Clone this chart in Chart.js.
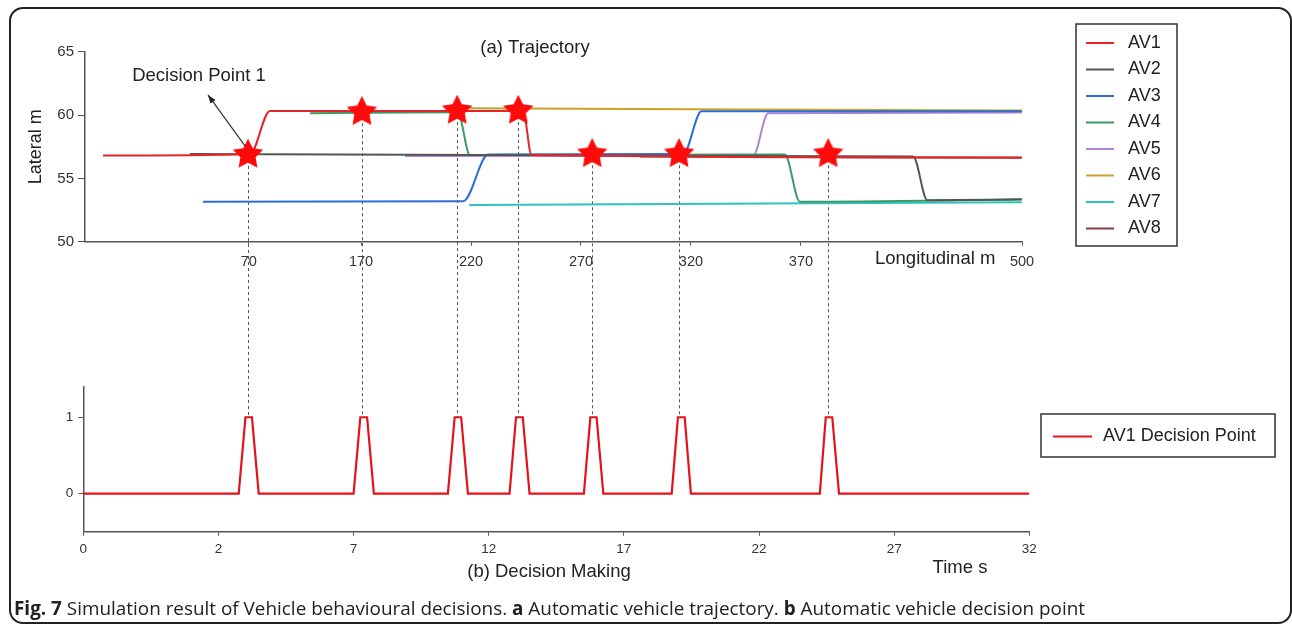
<!DOCTYPE html>
<html>
<head>
<meta charset="utf-8">
<script src="https://cdn.jsdelivr.net/npm/chart.js@4.4.1/dist/chart.umd.min.js"></script>
<style>
    body { margin: 0; background: #fff; }
    #wrap { position: relative; width: 1292px; height: 626px; overflow: hidden; }
    .frame { position: absolute; left: 9px; top: 7px; width: 1283px; height: 617px; border: 2px solid #222; border-radius: 14px; box-sizing: border-box; }
    canvas { position: absolute; left: 0; top: 0; }
    #topChart { z-index: 2; }
    #bottomChart { z-index: 1; }
    #caption { position: absolute; left: 14px; top: 596px; font: 18.9px "Open Sans", sans-serif; line-height: 24px; color: #222; white-space: nowrap; z-index: 3; }
</style>
</head>
<body>
<div id="wrap">
    <div class="frame"></div>
    <canvas id="bottomChart" width="1292" height="626"></canvas>
    <canvas id="topChart" width="1292" height="626"></canvas>
    <div id="caption"><b>Fig. 7</b> Simulation result of Vehicle behavioural decisions. <b>a</b> Automatic vehicle trajectory. <b>b</b> Automatic vehicle decision point</div>
</div>
<script>
const FONT = '"Liberation Sans", Arial, Helvetica, sans-serif';

// (a) trajectories - longitudinal position vs lateral position
const av1X = [52.7, 119.5, 128.6, 243.7, 247.5, 470.4];
const av1Y = [56.80, 56.90, 60.32, 60.32, 56.85, 56.65];
const av2X = [92.2, 421.0, 427.5, 470.4];
const av2Y = [56.93, 56.72, 53.28, 53.35];
const av3X = [98.1, 216.5, 227.8, 316.5, 324.8, 470.4];
const av3Y = [53.16, 53.20, 56.88, 56.92, 60.30, 60.30];
const av4X = [146.8, 214.0, 219.5, 362.7, 369.5, 470.4];
const av4Y = [60.14, 60.22, 56.85, 56.88, 53.16, 53.33];
const av5X = [190.0, 348.3, 355.1, 470.4];
const av5Y = [56.77, 56.79, 60.14, 60.20];
const av6X = [219.5, 470.4];
const av6Y = [60.53, 60.36];
const av7X = [219.2, 470.4];
const av7Y = [52.90, 53.12];
const av8X = [296.8, 470.4];
const av8Y = [56.72, 56.62];

const vehicleNames = ['AV1', 'AV2', 'AV3', 'AV4', 'AV5', 'AV6', 'AV7', 'AV8'];
const vehicleColors = ['#e52528', '#555555', '#2c6fd1', '#3b9a64', '#b185d6', '#c9a227', '#2ec4bd', '#7d4040'];

// decision points of AV1 (stars)
const starX = [118.6, 170.4, 213.7, 241.5, 275.1, 314.6, 382.4];
const starY = [56.93, 60.30, 60.40, 60.40, 56.98, 56.98, 56.98];

// top axis tick positions and their printed labels
const topTickPos = [119, 170, 220, 270, 320, 370, 470.5];
const topTickLabels = ['70', '170', '220', '270', '320', '370', '500'];

// (b) decision making - time vs decision flag
const timeTickLabels = ['0', '2', '7', '12', '17', '22', '27', '32'];
const decisionT = [0, 5.75, 6.0, 6.24, 6.49, 10.0, 10.25, 10.5, 10.75, 13.49, 13.74, 13.98, 14.23,
    15.77, 16.01, 16.26, 16.51, 18.52, 18.76, 18.99, 19.24, 21.77, 22.0, 22.25, 22.48,
    27.25, 27.47, 27.71, 27.96, 35];
const decisionV = [0, 0, 1, 1, 0, 0, 1, 1, 0, 0, 1, 1, 0,
    0, 1, 1, 0, 0, 1, 1, 0, 0, 1, 1, 0,
    0, 1, 1, 0, 0];

const trajX = [av1X, av2X, av3X, av4X, av5X, av6X, av7X, av8X];
const trajY = [av1Y, av2Y, av3Y, av4Y, av5Y, av6Y, av7Y, av8Y];

function zip(xs, ys) {
    return xs.map((x, i) => ({ x: x, y: ys[i] }));
}

// estrela vermelha usada como pointStyle
function makeStar(r) {
    const c = document.createElement('canvas');
    c.width = c.height = Math.ceil(2 * r + 2);
    const g = c.getContext('2d');
    const cx = c.width / 2, cy = c.height / 2 + 0.8;
    g.beginPath();
    for (let i = 0; i < 10; i++) {
        const rad = i % 2 === 0 ? r : r * 0.5;
        const a = -Math.PI / 2 + i * Math.PI / 5;
        const px = cx + rad * Math.cos(a);
        const py = cy + rad * Math.sin(a);
        if (i === 0) g.moveTo(px, py); else g.lineTo(px, py);
    }
    g.closePath();
    g.fillStyle = '#ff0a0a';
    g.fill();
    return c;
}

function drawLegendBox(ctx, box, items) {
    ctx.save();
    ctx.strokeStyle = '#333';
    ctx.lineWidth = 1.5;
    ctx.strokeRect(box.x, box.y, box.w, box.h);
    ctx.font = '18px ' + FONT;
    ctx.textBaseline = 'middle';
    ctx.textAlign = 'left';
    items.forEach(it => {
        ctx.strokeStyle = it.color;
        ctx.lineWidth = 2;
        ctx.beginPath();
        ctx.moveTo(it.x1, it.y);
        ctx.lineTo(it.x2, it.y);
        ctx.stroke();
        ctx.fillStyle = '#222';
        ctx.fillText(it.text, it.tx, it.y);
    });
    ctx.restore();
}

const bottomExtras = {
    id: 'bottomExtras',
    afterDraw(chart) {
        const ctx = chart.ctx;
        ctx.save();
        ctx.fillStyle = '#222';
        ctx.font = '18.5px ' + FONT;
        ctx.textBaseline = 'middle';
        ctx.textAlign = 'center';
        ctx.fillText('(b) Decision Making', 549, 572);
        ctx.fillText('Time s', 960, 568);
        ctx.restore();

        const ds = chart.data.datasets[0];
        drawLegendBox(ctx, { x: 1041, y: 414, w: 234, h: 43 }, [
            { color: ds.borderColor, x1: 1053, x2: 1092, y: 436.5, tx: 1103, text: ds.label }
        ]);
    }
};

const bottomChart = new Chart(document.getElementById('bottomChart'), {
    type: 'line',
    data: {
        datasets: [{
            label: 'AV1 Decision Point',
            data: zip(decisionT, decisionV),
            borderColor: '#e3121b',
            borderWidth: 2.2,
            pointRadius: 0,
            tension: 0
        }]
    },
    options: {
        responsive: false,
        animation: false,
        devicePixelRatio: 1,
        layout: { padding: { left: 0, top: 386.7, right: 262.7, bottom: 54.3 } },
        plugins: { legend: { display: false }, tooltip: { enabled: false } },
        scales: {
            x: {
                type: 'linear',
                min: 0,
                max: 35,
                afterFit(scale) { scale.height = 40; },
                ticks: {
                    stepSize: 5,
                    padding: 5,
                    color: '#333',
                    font: { family: FONT, size: 13.5 },
                    callback: (value, index) => timeTickLabels[index]
                },
                grid: { drawOnChartArea: false, tickLength: 4, color: '#555' },
                border: { color: '#555', width: 1.5 }
            },
            y: {
                min: -0.5,
                max: 1.4,
                afterFit(scale) { scale.width = 83.3; },
                afterBuildTicks(scale) { scale.ticks = [{ value: 0 }, { value: 1 }]; },
                ticks: {
                    padding: 5,
                    color: '#333',
                    font: { family: FONT, size: 13.5 }
                },
                grid: { drawOnChartArea: false, tickLength: 5, color: '#555' },
                border: { color: '#555', width: 1.5 }
            }
        }
    },
    plugins: [bottomExtras]
});

const topExtras = {
    id: 'topExtras',
    beforeDatasetsDraw(chart) {
        // linhas tracejadas das estrelas até os picos de decisão
        const ctx = chart.ctx;
        const xs = chart.scales.x, ys = chart.scales.y;
        const yEnd = bottomChart.scales.y.getPixelForValue(1);
        ctx.save();
        ctx.strokeStyle = '#555';
        ctx.lineWidth = 1;
        ctx.setLineDash([3, 3]);
        starX.forEach((sx, i) => {
            const px = Math.round(xs.getPixelForValue(sx)) + 0.5;
            ctx.beginPath();
            ctx.moveTo(px, ys.getPixelForValue(starY[i]));
            ctx.lineTo(px, yEnd);
            ctx.stroke();
        });
        ctx.restore();
    },
    afterDraw(chart) {
        const ctx = chart.ctx;
        const xs = chart.scales.x, ys = chart.scales.y;
        ctx.save();
        ctx.fillStyle = '#222';
        ctx.font = '18.5px ' + FONT;
        ctx.textBaseline = 'middle';
        ctx.textAlign = 'center';
        ctx.fillText('(a) Trajectory', 535, 48);
        ctx.fillText('Decision Point 1', 199, 76);
        ctx.textAlign = 'left';
        ctx.fillText('Longitudinal m', 875, 259);

        // seta apontando para o primeiro ponto de decisão
        const sx = xs.getPixelForValue(starX[0]);
        const sy = ys.getPixelForValue(starY[0]);
        const x0 = sx - 3, y0 = sy - 8, x1 = sx - 40, y1 = sy - 59;
        ctx.strokeStyle = '#333';
        ctx.lineWidth = 1.2;
        ctx.beginPath();
        ctx.moveTo(x0, y0);
        ctx.lineTo(x1, y1);
        ctx.stroke();
        const ang = Math.atan2(y1 - y0, x1 - x0);
        ctx.fillStyle = '#222';
        ctx.beginPath();
        ctx.moveTo(x1, y1);
        ctx.lineTo(x1 - 9 * Math.cos(ang - 0.35), y1 - 9 * Math.sin(ang - 0.35));
        ctx.lineTo(x1 - 9 * Math.cos(ang + 0.35), y1 - 9 * Math.sin(ang + 0.35));
        ctx.closePath();
        ctx.fill();
        ctx.restore();

        const items = vehicleNames.map((name, i) => ({
            color: vehicleColors[i], x1: 1086, x2: 1114, y: 43 + i * 26.5, tx: 1128, text: name
        }));
        drawLegendBox(ctx, { x: 1076, y: 24, w: 101, h: 222 }, items);
    }
};

const starImg = makeStar(16);

const trajDatasets = vehicleNames.map((name, i) => ({
    label: name,
    data: zip(trajX[i], trajY[i]),
    borderColor: vehicleColors[i],
    borderWidth: 2,
    pointRadius: 0,
    cubicInterpolationMode: 'monotone'
}));

const topChart = new Chart(document.getElementById('topChart'), {
    type: 'line',
    data: {
        datasets: [{
            label: 'Decision points',
            data: zip(starX, starY),
            showLine: false,
            pointStyle: starImg,
            pointRadius: 16,
            order: -1
        }].concat(trajDatasets)
    },
    options: {
        responsive: false,
        animation: false,
        devicePixelRatio: 1,
        layout: { padding: { left: 0, top: 51.7, right: 270, bottom: 344.3 } },
        plugins: { legend: { display: false }, tooltip: { enabled: false } },
        scales: {
            x: {
                type: 'linear',
                min: 44.5,
                max: 470.5,
                afterFit(scale) { scale.height = 40; },
                afterBuildTicks(scale) { scale.ticks = topTickPos.map(v => ({ value: v })); },
                ticks: {
                    padding: 8,
                    color: '#333',
                    maxRotation: 0,
                    autoSkip: false,
                    font: { family: FONT, size: 14.5 },
                    callback: (value, index) => topTickLabels[index]
                },
                grid: { drawOnChartArea: false, tickLength: 4, color: '#555' },
                border: { color: '#555', width: 1.5 }
            },
            y: {
                min: 50,
                max: 65,
                afterFit(scale) { scale.width = 85; },
                ticks: {
                    stepSize: 5,
                    padding: 4,
                    color: '#333',
                    font: { family: FONT, size: 15 }
                },
                title: {
                    display: true,
                    text: 'Lateral m',
                    color: '#222',
                    font: { family: FONT, size: 18 },
                    padding: { top: 25, bottom: 0 }
                },
                grid: { drawOnChartArea: false, tickLength: 7, color: '#555' },
                border: { color: '#555', width: 1.5 }
            }
        }
    },
    plugins: [topExtras]
});
</script>
</body>
</html>
